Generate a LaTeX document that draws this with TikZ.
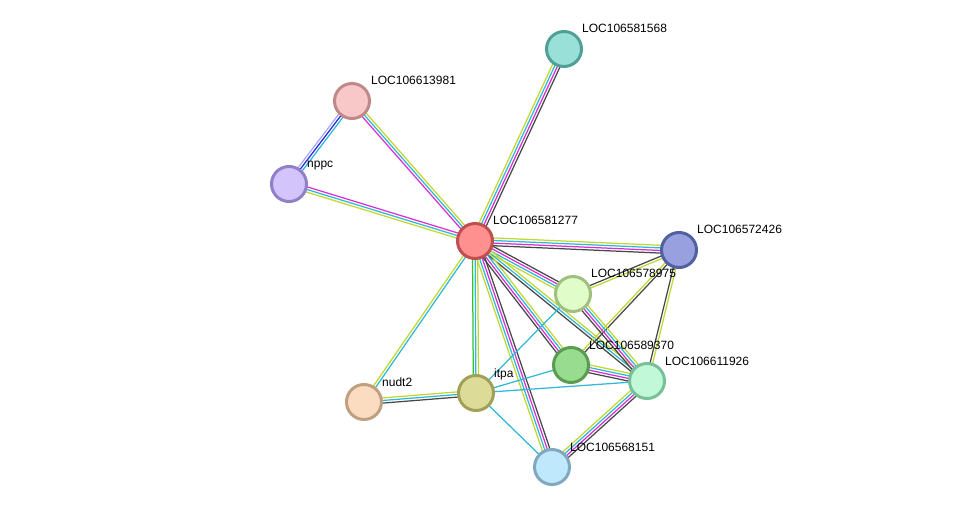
\documentclass[tikz,border=0pt]{standalone}
\usepackage{fontspec}
\setmainfont{Liberation Sans}
\usetikzlibrary{calc}
\pgfdeclarelayer{bg}
\pgfsetlayers{bg,main}
\definecolor{eY}{HTML}{C0D830}
\definecolor{eC}{HTML}{30B8D8}
\definecolor{eM}{HTML}{D830D8}
\definecolor{eK}{HTML}{484848}
\definecolor{eG}{HTML}{30C030}
\definecolor{eB}{HTML}{2828E0}
\definecolor{eL}{HTML}{A8A8F8}
\tikzset{
  prot/.style={circle,minimum size=35pt,inner sep=0pt,line width=3pt},
  lbl/.style={anchor=base west,font=\fontsize{12}{14}\selectfont,inner sep=0pt,text=black},
  evline/.style={line width=1.25pt}
}
\newcommand\strEdge[3]{%
  \begin{pgfonlayer}{bg}
  \foreach \c [count=\i] in {#3} {\xdef\nmax{\i}}%
  \foreach \c [count=\i] in {#3} {%
    \pgfmathsetmacro\off{((\nmax+1)/2-\i)*2.6}%
    \draw[evline,draw=\c] ($(#1)!\off pt!90:(#2)$) -- ($(#2)!\off pt!-90:(#1)$);
  }
  \end{pgfonlayer}}
\begin{document}
\begin{tikzpicture}[x=1pt,y=1pt]
\useasboundingbox (0,0) rectangle (975,-513);
% nodes
\node[prot,fill={rgb,255:red,255;green,144;blue,144},draw={rgb,255:red,192;green,80;blue,80}] (hub) at (475,-241) {};
\node[prot,fill={rgb,255:red,152;green,224;blue,216},draw={rgb,255:red,80;green,160;blue,152}] (n1568) at (564,-49) {};
\node[prot,fill={rgb,255:red,248;green,200;blue,200},draw={rgb,255:red,192;green,136;blue,136}] (n3981) at (352,-101) {};
\node[prot,fill={rgb,255:red,212;green,196;blue,252},draw={rgb,255:red,144;green,128;blue,200}] (nppc) at (289,-184) {};
\node[prot,fill={rgb,255:red,152;green,160;blue,224},draw={rgb,255:red,80;green,96;blue,160}] (n2426) at (679,-250) {};
\node[prot,fill={rgb,255:red,224;green,252;blue,200},draw={rgb,255:red,160;green,192;blue,128}] (n8975) at (573,-294) {};
\node[prot,fill={rgb,255:red,152;green,220;blue,144},draw={rgb,255:red,92;green,156;blue,80}] (n9370) at (571,-365) {};
\node[prot,fill={rgb,255:red,192;green,248;blue,216},draw={rgb,255:red,120;green,192;blue,152}] (n1926) at (647,-381) {};
\node[prot,fill={rgb,255:red,220;green,220;blue,152},draw={rgb,255:red,160;green,160;blue,88}] (itpa) at (476,-393) {};
\node[prot,fill={rgb,255:red,252;green,220;blue,192},draw={rgb,255:red,192;green,160;blue,128}] (nudt2) at (364,-402) {};
\node[prot,fill={rgb,255:red,192;green,232;blue,252},draw={rgb,255:red,128;green,168;blue,192}] (n8151) at (552,-467) {};
% edges
\strEdge{hub}{n1568}{eY,eC,eM,eK}
\strEdge{hub}{n3981}{eM,eC,eY}
\strEdge{hub}{nppc}{eY,eC,eM}
\strEdge{nppc}{n3981}{eL,eB,eC}
\strEdge{hub}{n2426}{eY,eC,eM,eK}
\strEdge{hub}{n8975}{eK,eM,eC,eY}
\strEdge{hub}{n1926}{eY,eC,eK}
\strEdge{hub}{n9370}{eY,eC,eM,eK}
\strEdge{hub}{n8151}{eK,eM,eC,eY}
\strEdge{hub}{itpa}{eY,eC,eG}
\strEdge{hub}{nudt2}{eC,eY}
\strEdge{itpa}{nudt2}{eK,eC,eY}
\strEdge{n2426}{n8975}{eY,eK}
\strEdge{n2426}{n9370}{eK,eY}
\strEdge{n2426}{n1926}{eY,eK}
\strEdge{n8975}{n1926}{eY,eC,eM,eK}
\strEdge{n9370}{n1926}{eY,eC,eM,eK}
\strEdge{n1926}{n8151}{eK,eM,eC,eY}
\strEdge{n8975}{itpa}{eC}
\strEdge{n9370}{itpa}{eC}
\strEdge{itpa}{n1926}{eC}
\strEdge{itpa}{n8151}{eC}
% labels
\node[lbl] (l1) at (493,-225) {LOC106581277};
\node[lbl] (l2) at (582,-33) {LOC106581568};
\node[lbl] (l3) at (371,-85) {LOC106613981};
\node[lbl] (l4) at (307,-168) {nppc};
\node[lbl] (l5) at (697,-234) {LOC106572426};
\node[lbl] (l6) at (591,-278) {LOC106578975};
\node[lbl] (l7) at (589,-349) {LOC106589370};
\node[lbl] (l8) at (665,-365) {LOC106611926};
\node[lbl] (l9) at (494,-377) {itpa};
\node[lbl] (l10) at (382,-386) {nudt2};
\node[lbl] (l11) at (570,-451) {LOC106568151};
\end{tikzpicture}
\end{document}
